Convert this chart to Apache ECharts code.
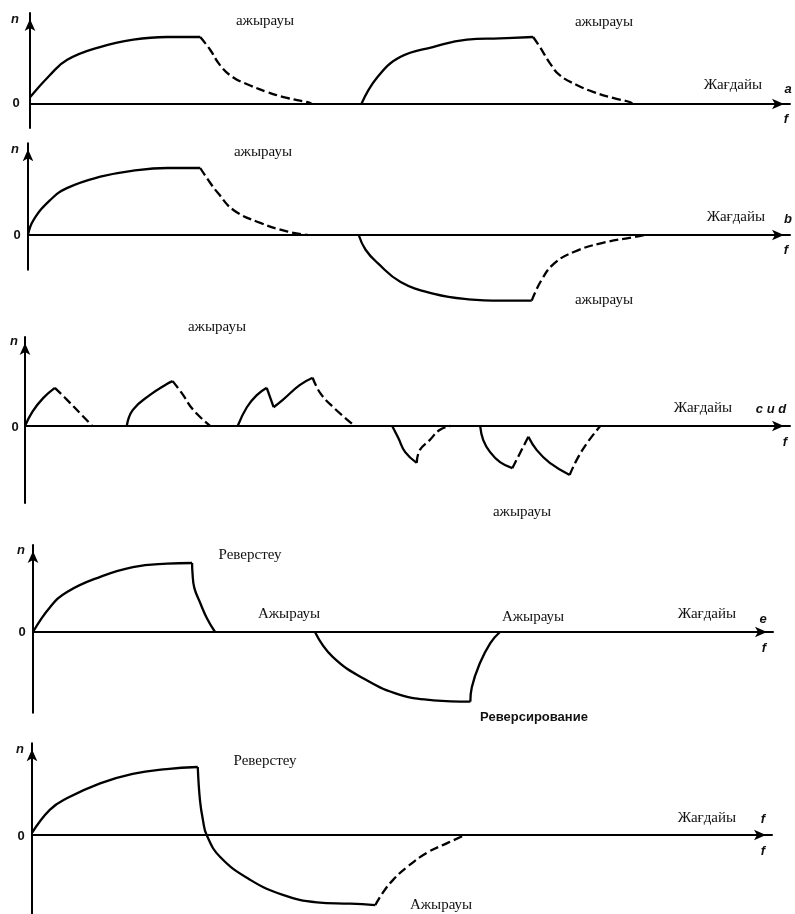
<!DOCTYPE html>
<html>
<head>
<meta charset="utf-8">
<script src="https://cdn.jsdelivr.net/npm/echarts@6/dist/echarts.min.js"></script>
<style>html,body{margin:0;padding:0;background:#fff}#chart{width:795px;height:914px}</style>
</head>
<body>
<div id="chart"></div>
<script>
// ---- data: [f (time units 0..100), n (relative speed, plateau = 1)] ----
// panel a
const aSolid1 = [[0,0.10],[2.6,0.43],[4.9,0.66],[9.2,0.85],[13.6,0.96],[18.0,1.0],[22.4,1.0]];
const aDash1  = [[22.4,1.0],[23.7,0.81],[25.0,0.58],[26.7,0.40],[28.9,0.28],[31.2,0.18],[33.8,0.09],[36.4,0.03],[37.1,0]];
const aSolid2 = [[43.6,0],[45.7,0.40],[48.7,0.70],[53.0,0.85],[57.5,0.96],[61.8,0.98],[66.2,1.0]];
const aDash2  = [[66.2,1.0],[67.1,0.85],[68.4,0.61],[69.7,0.43],[72.0,0.28],[74.1,0.18],[76.7,0.09],[78.9,0.03],[79.3,0]];
// panel b
const bSolid1 = [[0,0],[0.7,0.22],[2.9,0.52],[5.1,0.70],[9.5,0.87],[13.8,0.96],[18.3,1.0],[22.6,1.0]];
const bDash1  = [[22.6,1.0],[23.9,0.78],[24.9,0.63],[27.0,0.37],[30.5,0.18],[34.1,0.05],[36.7,0]];
const bSolid2 = [[43.4,0],[44.3,-0.22],[45.9,-0.42],[48.9,-0.70],[53.3,-0.88],[57.8,-0.96],[62.1,-0.98],[66.1,-0.98]];
const bDash2  = [[66.1,-0.98],[67.4,-0.67],[69.1,-0.42],[71.7,-0.25],[75.3,-0.12],[79.6,-0.03],[80.9,0]];
// panel c (c и d)
const cSolid1 = [[0,0],[1.0,0.22],[2.4,0.42],[3.9,0.57]];
const cDash1  = [[3.9,0.57],[5.5,0.39],[7.2,0.19],[8.8,0]];
const cSolid2 = [[13.3,0],[14.1,0.24],[16.3,0.46],[18.6,0.63],[19.3,0.67]];
const cDash2  = [[19.3,0.67],[20.5,0.49],[22.0,0.24],[24.2,0]];
const cSolid3 = [[27.8,0],[29.0,0.28],[30.3,0.46],[31.6,0.57]];
const cSolid4 = [[31.6,0.57],[32.5,0.28]];
const cSolid5 = [[32.5,0.28],[33.7,0.39],[35.9,0.61],[37.6,0.72]];
const cDash3  = [[37.6,0.72],[38.6,0.49],[40.3,0.28],[43.1,0]];
const cSolid6 = [[48.0,0],[48.8,-0.18],[49.7,-0.39],[51.2,-0.55]];
const cDash4  = [[51.2,-0.55],[51.6,-0.36],[52.9,-0.21],[54.2,-0.06],[55.6,0]];
const cSolid7 = [[59.5,0],[59.9,-0.21],[60.8,-0.39],[62.1,-0.54],[63.7,-0.63]];
const cDash5  = [[63.7,-0.63],[65.8,-0.16]];
const cSolid8 = [[65.8,-0.16],[66.9,-0.36],[68.6,-0.55],[71.2,-0.73]];
const cDash6  = [[71.2,-0.73],[72.1,-0.51],[73.5,-0.25],[75.2,0]];
// panel e
const eSolid1 = [[0,0],[2.3,0.36],[4.6,0.58],[9.1,0.80],[13.5,0.94],[18.1,0.99],[21.5,1.0]];
const eSolid2 = [[21.5,1.0],[21.55,0.86],[21.8,0.64],[22.6,0.42],[23.5,0.20],[24.6,0]];
const eSolid3 = [[38.1,0],[40.5,-0.36],[45.1,-0.70],[49.6,-0.91],[54.1,-0.99],[59.1,-1.01]];
const eSolid4 = [[59.1,-1.01],[59.3,-0.80],[60.4,-0.45],[61.8,-0.16],[63.1,0]];
// panel f
const fSolid1 = [[0,0.03],[2.4,0.37],[4.7,0.54],[9.2,0.76],[13.6,0.90],[18.2,0.97],[22.4,1.0]];
const fSolid2 = [[22.4,1.0],[22.7,0.51],[23.1,0.22],[23.6,0],[25.4,-0.32],[29.5,-0.66],[33.9,-0.88],[38.5,-0.99],[43.0,-1.01],[46.4,-1.03]];
const fDash1  = [[46.4,-1.03],[47.4,-0.85],[48.8,-0.66],[50.7,-0.47],[53.4,-0.26],[56.1,-0.12],[58.5,0]];

// ---- segments: panel index, data, dashed ----
const segments = [
  [0,aSolid1,false],[0,aDash1,true],[0,aSolid2,false],[0,aDash2,true],
  [1,bSolid1,false],[1,bDash1,true],[1,bSolid2,false],[1,bDash2,true],
  [2,cSolid1,false],[2,cDash1,true],[2,cSolid2,false],[2,cDash2,true],
  [2,cSolid3,false],[2,cSolid4,false],[2,cSolid5,false],[2,cDash3,true],
  [2,cSolid6,false],[2,cDash4,true],[2,cSolid7,false],[2,cDash5,true],
  [2,cSolid8,false],[2,cDash6,true],
  [3,eSolid1,false],[3,eSolid2,false],[3,eSolid3,false],[3,eSolid4,false],
  [4,fSolid1,false],[4,fSolid2,false],[4,fDash1,true]
];

// ---- layout of the five panels (pixels) ----
const layout = [
  {left:30, right:5,  base:104, unit:67, ymin:-0.36, ymax:1.36},
  {left:28, right:5,  base:235, unit:67, ymin:-0.52, ymax:1.37},
  {left:25, right:5,  base:426, unit:67, ymin:-1.15, ymax:1.33},
  {left:33, right:22, base:632, unit:69, ymin:-1.17, ymax:1.26},
  {left:32, right:23, base:835, unit:68, ymin:-1.15, ymax:1.35}
];

// ---- texts ----
const SERIF = '"Liberation Serif", "DejaVu Serif", serif';
const SANS = '"Liberation Sans", Arial, sans-serif';
const notes = [
  // [text, x, y, style]
  ['ажырауы',265,21,'s'],['ажырауы',604,22,'s'],['Жағдайы',733,85,'s'],['a',788,89,'bi'],['f',786,119,'bi'],['n',15,19,'bi'],['0',16,103,'b'],
  ['ажырауы',263,152,'s'],['ажырауы',604,300,'s'],['Жағдайы',736,217,'s'],['b',788,219,'bi'],['f',786,250,'bi'],['n',15,149,'bi'],['0',17,235,'b'],
  ['ажырауы',217,327,'s'],['ажырауы',522,512,'s'],['Жағдайы',703,408,'s'],['c и d',771,409,'bi'],['f',785,442,'bi'],['n',14,341,'bi'],['0',15,427,'b'],
  ['Реверстеу',250,555,'s'],['Ажырауы',289,614,'s'],['Ажырауы',533,617,'s'],['Жағдайы',707,614,'s'],['e',763,619,'bi'],['f',764,648,'bi'],['Реверсирование',534,717,'r'],['n',21,550,'bi'],['0',22,632,'b'],
  ['Реверстеу',265,761,'s'],['Жағдайы',707,818,'s'],['f',763,819,'bi'],['f',763,851,'bi'],['Ажырауы',441,905,'s'],['n',20,749,'bi'],['0',21,836,'b']
];
const fonts = {
  s: 'normal 15px ' + SERIF,
  bi: 'italic bold 13px ' + SANS,
  b: 'bold 13px ' + SANS,
  r: '600 13px ' + SANS
};

const axisLineStyle = {
  show: true,
  onZero: true,
  symbol: ['none','arrow'],
  symbolSize: [8, 12],
  symbolOffset: [0, -6],
  lineStyle: {color:'#000', width:2}
};

const grid = [], xAxis = [], yAxis = [];
layout.forEach((p, i) => {
  grid.push({left:p.left, right:p.right, top:p.base - p.ymax*p.unit, height:(p.ymax - p.ymin)*p.unit, containLabel:false});
  xAxis.push({type:'value', gridIndex:i, min:0, max:100, axisLine:axisLineStyle, axisTick:{show:false}, axisLabel:{show:false}, splitLine:{show:false}});
  yAxis.push({type:'value', gridIndex:i, min:p.ymin, max:p.ymax, axisLine:axisLineStyle, axisTick:{show:false}, axisLabel:{show:false}, splitLine:{show:false}});
});

const series = segments.map(([pi, data, dashed]) => ({
  type:'line', xAxisIndex:pi, yAxisIndex:pi, data:data, clip:false,
  symbol:'none', showSymbol:false, smooth:0.45,
  lineStyle:{color:'#000', width:2.3, type: dashed ? [9,4] : 'solid'},
  silent:true, z:3
}));

const graphic = notes.map(([t, x, y, k]) => ({
  type:'text', x:x, y:y, silent:true, z:10,
  style:{text:t, font:fonts[k], fill:'#111', align:'center', verticalAlign:'middle'}
}));

const chart = echarts.init(document.getElementById('chart'), null, {renderer:'canvas'});
chart.setOption({
  animation:false,
  backgroundColor:'#fff',
  grid, xAxis, yAxis, series, graphic
});
</script>
</body>
</html>
